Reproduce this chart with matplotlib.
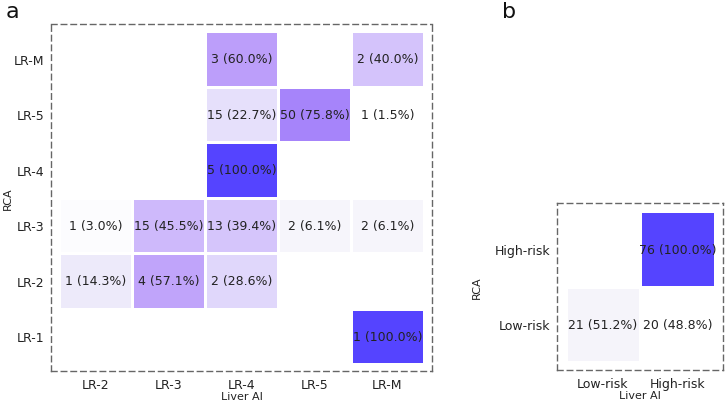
import matplotlib

matplotlib.use("Agg")
import matplotlib.pyplot as plt
import numpy as np
from matplotlib.colors import LinearSegmentedColormap

# panel a: RCA (rows) vs Liver AI (columns), LI-RADS categories
a_rows = ["LR-M", "LR-5", "LR-4", "LR-3", "LR-2", "LR-1"]
a_cols = ["LR-2", "LR-3", "LR-4", "LR-5", "LR-M"]
a_counts = [
    [0, 0, 3, 0, 2],
    [0, 0, 15, 50, 1],
    [0, 0, 5, 0, 0],
    [1, 15, 13, 2, 2],
    [1, 4, 2, 0, 0],
    [0, 0, 0, 0, 1],
]

# panel b: risk groups
b_rows = ["High-risk", "Low-risk"]
b_cols = ["Low-risk", "High-risk"]
b_counts = [
    [0, 76],
    [21, 20],
]

CMAP = LinearSegmentedColormap.from_list(
    "lavender_blue",
    [
        (0.0, "#ffffff"),
        (0.05, "#f4f3fa"),
        (0.22, "#e6e0fb"),
        (0.40, "#d3c2fb"),
        (0.58, "#bea1fa"),
        (0.755, "#a684fa"),
        (1.0, "#5544ff"),
    ],
)
TEXT_COLOR = "#222222"
SPINE_COLOR = "#666666"


def draw_panel(ax, counts, rows, cols, pad_x, pad_y, ylabel_x):
    counts = np.array(counts, dtype=float)
    pct = counts / counts.sum(axis=1, keepdims=True) * 100
    vmin = pct[pct > 0].min()
    shown = np.ma.masked_where(counts == 0, pct)
    nr, nc = counts.shape
    ax.pcolormesh(
        np.arange(nc + 1), np.arange(nr + 1), shown,
        cmap=CMAP, vmin=vmin, vmax=100,
        edgecolors="white", linewidth=2,
    )
    for i in range(nr):
        for j in range(nc):
            if counts[i, j] == 0:
                continue
            ax.text(j + 0.5, i + 0.5, f"{int(counts[i, j])} ({pct[i, j]:.1f}%)",
                    ha="center", va="center", fontsize=9, color=TEXT_COLOR)
    ax.set_xlim(-pad_x, nc + pad_x)
    ax.set_ylim(nr + pad_y, -pad_y)
    ax.set_xticks(np.arange(nc) + 0.5)
    ax.set_xticklabels(cols, fontsize=9, color=TEXT_COLOR)
    ax.set_yticks(np.arange(nr) + 0.5)
    ax.set_yticklabels(rows, fontsize=9, color=TEXT_COLOR)
    ax.tick_params(length=0, pad=5)
    ax.set_xlabel("Liver AI", fontsize=8, color=TEXT_COLOR, labelpad=0)
    ax.set_ylabel("RCA", fontsize=8, color=TEXT_COLOR)
    ax.yaxis.set_label_coords(ylabel_x, 0.5)
    for sp in ax.spines.values():
        sp.set_linestyle((0, (4, 3)))
        sp.set_color(SPINE_COLOR)
        sp.set_linewidth(1)


fig = plt.figure(figsize=(7.25, 4.02), dpi=100)
ax_a = fig.add_axes([0.0703, 0.0746, 0.5255, 0.863])
ax_b = fig.add_axes([0.7683, 0.0771, 0.229, 0.4154])

draw_panel(ax_a, a_counts, a_rows, a_cols, pad_x=0.11, pad_y=0.126, ylabel_x=-0.1)
draw_panel(ax_b, b_counts, b_rows, b_cols, pad_x=0.114, pad_y=0.113, ylabel_x=-0.45)

fig.text(0.008, 0.97, "a", fontsize=16, ha="left", va="center", color="#111111")
fig.text(0.692, 0.97, "b", fontsize=16, ha="left", va="center", color="#111111")

fig.savefig("out.png", dpi=100)
